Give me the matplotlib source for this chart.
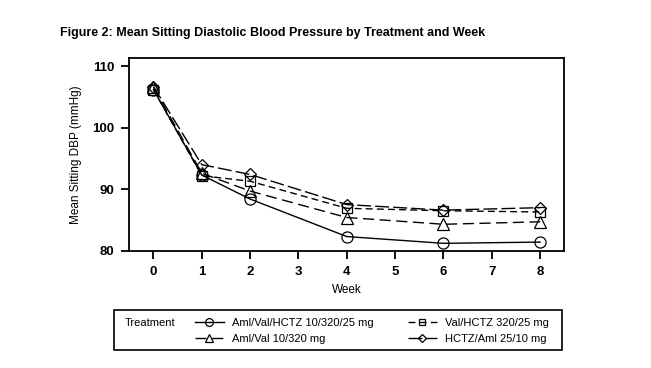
import matplotlib
matplotlib.use("Agg")
import matplotlib.pyplot as plt
from matplotlib.patches import Rectangle

plt.rcParams['font.family'] = ['Liberation Sans Narrow', 'Liberation Sans', 'DejaVu Sans']

weeks = [0, 1, 2, 4, 6, 8]
aml_val_hctz = [106.2, 92.3, 88.4, 82.3, 81.2, 81.4]
aml_val = [106.6, 92.6, 89.7, 85.4, 84.3, 84.7]
val_hctz = [106.2, 92.2, 91.3, 86.9, 86.5, 86.3]
hctz_aml = [106.7, 94.0, 92.4, 87.5, 86.6, 87.0]

labels = ["Aml/Val/HCTZ 10/320/25 mg", "Aml/Val 10/320 mg",
          "Val/HCTZ 320/25 mg", "HCTZ/Aml 25/10 mg"]
xticks = [0, 1, 2, 3, 4, 5, 6, 7, 8]
yticks = [80, 90, 100, 110]

W, H = 651, 368
fig = plt.figure(figsize=(W / 100, H / 100), dpi=100)
ax = fig.add_axes([129.3 / W, 1 - 250.7 / H, 435 / W, 192.4 / H])

styles = [
    dict(marker='o', linestyle='-'),
    dict(marker='^', linestyle=(0, (8, 4))),
    dict(marker='s', linestyle=(0, (5, 3))),
    dict(marker='D', linestyle=(0, (10, 3))),
]
msizes = [8, 8, 7, 6]
series = [aml_val_hctz, aml_val, val_hctz, hctz_aml]
handles = []
for vals, st, lab, ms in zip(series, styles, labels, msizes):
    h, = ax.plot(weeks, vals, color='black', lw=1.0, markersize=ms,
                 fillstyle='none', markeredgewidth=0.9, label=lab, **st)
    handles.append(h)

ax.set_xlim(-0.5, 8.5)
ax.set_ylim(80, 111.3)
ax.set_xticks(xticks)
ax.set_yticks(yticks)
ax.tick_params(direction='out', length=6, width=1.3, labelsize=9.5, pad=5)
for lab in ax.get_xticklabels() + ax.get_yticklabels():
    lab.set_fontweight('bold')
for sp in ax.spines.values():
    sp.set_linewidth(1.3)
ax.set_xlabel("Week", fontsize=8.5, labelpad=4)
ax.set_ylabel("Mean Sitting DBP (mmHg)", fontsize=8.5, labelpad=7)

fig.text(60 / W, 1 - 33 / H, "Figure 2: Mean Sitting Diastolic Blood Pressure by Treatment and Week",
         fontsize=9, fontweight='bold', va='center', ha='left')

# legend box
fig.patches.append(Rectangle((114.3 / W, 1 - 350 / H), 447.4 / W, 40 / H,
                             transform=fig.transFigure, fill=False,
                             edgecolor='black', lw=1.2))
fig.text(125 / W, 1 - 323.5 / H, "Treatment", fontsize=8, va='center', ha='left')

leg_kw = dict(frameon=False, fontsize=8, handlelength=2.6, handletextpad=0.7,
              labelspacing=0.5, borderpad=0, borderaxespad=0, loc='upper left',
              markerscale=0.7)
fig.legend(handles[:2], labels[:2], bbox_to_anchor=(195 / W, 1 - 318 / H), **leg_kw)
fig.legend(handles[2:], labels[2:], bbox_to_anchor=(408 / W, 1 - 318 / H), **leg_kw)

fig.savefig("out.png", dpi=100)
